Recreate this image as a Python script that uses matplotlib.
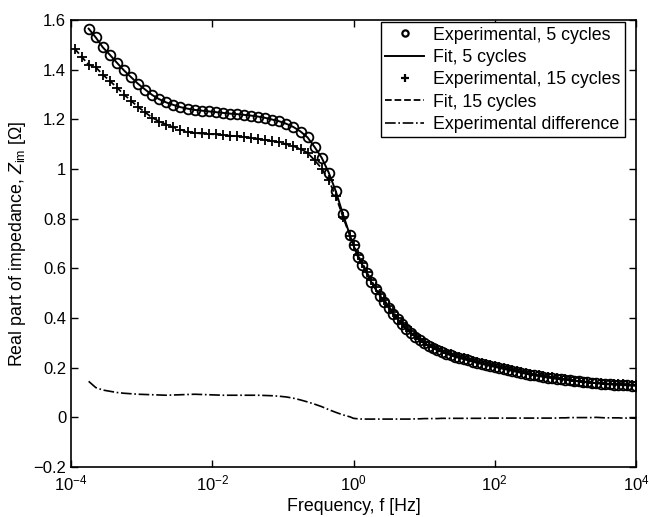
import matplotlib.pyplot as plt
import numpy as np

plt.rcParams['font.family'] = ['Liberation Sans', 'DejaVu Sans']
plt.rcParams['mathtext.fontset'] = 'custom'
plt.rcParams['mathtext.rm'] = 'Liberation Sans'
plt.rcParams['mathtext.it'] = 'Liberation Sans:italic'

# frequency sweep (log10 of Hz): coarser below 1 Hz, denser above
logf_low = np.arange(-3.75, 0, 0.1)
logf_high = np.arange(0, 4.001, 0.0625)
logf_extra = [-3.95, -3.85]   # two extra low points for the 15 cycle run

# real part of impedance, 5 cycles
z5_low = [1.565, 1.530, 1.490, 1.460, 1.428, 1.397, 1.370, 1.343, 1.320, 1.298,
          1.281, 1.268, 1.258, 1.249, 1.243, 1.238, 1.235, 1.232, 1.229, 1.226,
          1.223, 1.221, 1.218, 1.215, 1.211, 1.206, 1.199, 1.192, 1.182, 1.169,
          1.151, 1.127, 1.088, 1.045, 0.985, 0.910, 0.818, 0.733]
z5_high = [0.692, 0.647, 0.614, 0.580, 0.545, 0.516, 0.490, 0.465, 0.440, 0.416,
           0.394, 0.374, 0.355, 0.339, 0.324, 0.310, 0.298, 0.288, 0.279, 0.270,
           0.263, 0.256, 0.250, 0.244, 0.239, 0.234, 0.229, 0.224, 0.219, 0.215,
           0.211, 0.207, 0.203, 0.199, 0.195, 0.191, 0.187, 0.183, 0.179, 0.176,
           0.172, 0.169, 0.166, 0.163, 0.160, 0.158, 0.155, 0.153, 0.151, 0.149,
           0.147, 0.145, 0.143, 0.141, 0.139, 0.138, 0.136, 0.134, 0.133, 0.132,
           0.131, 0.130, 0.129, 0.128, 0.127]

# real part of impedance, 15 cycles
z15_extra = [1.485, 1.452]
z15_low = [1.420, 1.410, 1.380, 1.355, 1.328, 1.300, 1.275, 1.250, 1.228, 1.207,
           1.191, 1.179, 1.168, 1.158, 1.151, 1.145, 1.143, 1.141, 1.139, 1.137,
           1.134, 1.132, 1.129, 1.126, 1.122, 1.118, 1.112, 1.107, 1.100, 1.092,
           1.081, 1.065, 1.035, 1.002, 0.954, 0.890, 0.808, 0.731]
z15_high = [0.696, 0.653, 0.621, 0.587, 0.552, 0.523, 0.497, 0.472, 0.447, 0.423,
            0.401, 0.381, 0.362, 0.346, 0.330, 0.316, 0.303, 0.293, 0.284, 0.275,
            0.267, 0.260, 0.254, 0.248, 0.243, 0.238, 0.233, 0.228, 0.223, 0.219,
            0.214, 0.210, 0.206, 0.202, 0.198, 0.194, 0.190, 0.186, 0.182, 0.179,
            0.175, 0.172, 0.169, 0.166, 0.163, 0.161, 0.158, 0.155, 0.153, 0.150,
            0.148, 0.146, 0.144, 0.142, 0.140, 0.138, 0.137, 0.136, 0.135, 0.134,
            0.133, 0.133, 0.132, 0.131, 0.131]

f5 = 10 ** np.concatenate([logf_low, logf_high])
z5 = np.array(z5_low + z5_high)
f15 = 10 ** np.concatenate([logf_extra, logf_low, logf_high])
z15 = np.array(z15_extra + z15_low + z15_high)
zdiff = z5 - np.array(z15_low + z15_high)

fig = plt.figure(figsize=(6.49, 5.17), dpi=100)
ax = fig.add_axes([0.1094, 0.0967, 0.8706, 0.8646])

ax.plot(f5, zdiff, color='black', linestyle='-.', linewidth=1.2)
ax.plot(f5, z5, 'o', mfc='none', mec='black', ms=7, mew=1.3)
ax.plot(f5, z5, '-', color='black', linewidth=1.4)
ax.plot(f15, z15, '+', color='black', ms=7, mew=1.3)
ax.plot(f15, z15, '--', color='black', linewidth=1.3)

# legend handles
h1, = ax.plot([], [], 'o', mfc='none', mec='black', ms=4.5, mew=1.6)
h2, = ax.plot([], [], '-', color='black', linewidth=1.4)
h3, = ax.plot([], [], '+', color='black', ms=5.5, mew=1.6)
h4, = ax.plot([], [], '--', color='black', linewidth=1.3)
h5, = ax.plot([], [], '-.', color='black', linewidth=1.2)
leg = ax.legend([h1, h2, h3, h4, h5],
                ['Experimental, 5 cycles', 'Fit, 5 cycles', 'Experimental, 15 cycles',
                 'Fit, 15 cycles', 'Experimental difference'],
                loc='upper right', bbox_to_anchor=(0.9805, 0.995), borderaxespad=0,
                fontsize=12.8, handlelength=2.2, handletextpad=0.5,
                labelspacing=0.3, borderpad=0.25, fancybox=False, framealpha=1)
leg.get_frame().set_edgecolor('black')
leg.get_frame().set_linewidth(1.0)

ax.set_xscale('log')
ax.set_xlim(1e-4, 1e4)
ax.set_ylim(-0.2, 1.6)
ax.set_xticks([1e-4, 1e-2, 1e0, 1e2, 1e4])
ax.xaxis.set_minor_locator(plt.NullLocator())
ax.set_yticks(np.arange(-0.2, 1.61, 0.2))
ax.set_yticklabels(['\u22120.2', '0', '0.2', '0.4', '0.6', '0.8', '1', '1.2', '1.4', '1.6'])
ax.tick_params(direction='in', top=True, right=True, length=5, width=1, labelsize=12)
ax.tick_params(axis='x', pad=5)
for s in ax.spines.values():
    s.set_linewidth(1.2)

ax.set_xlabel('Frequency, f [Hz]', fontsize=12.8, labelpad=3)
ax.set_ylabel(r'Real part of impedance, $\it{Z}_{\rm im}$ [$\Omega$]', fontsize=12.8, labelpad=4)

fig.savefig('out.png', dpi=100)
